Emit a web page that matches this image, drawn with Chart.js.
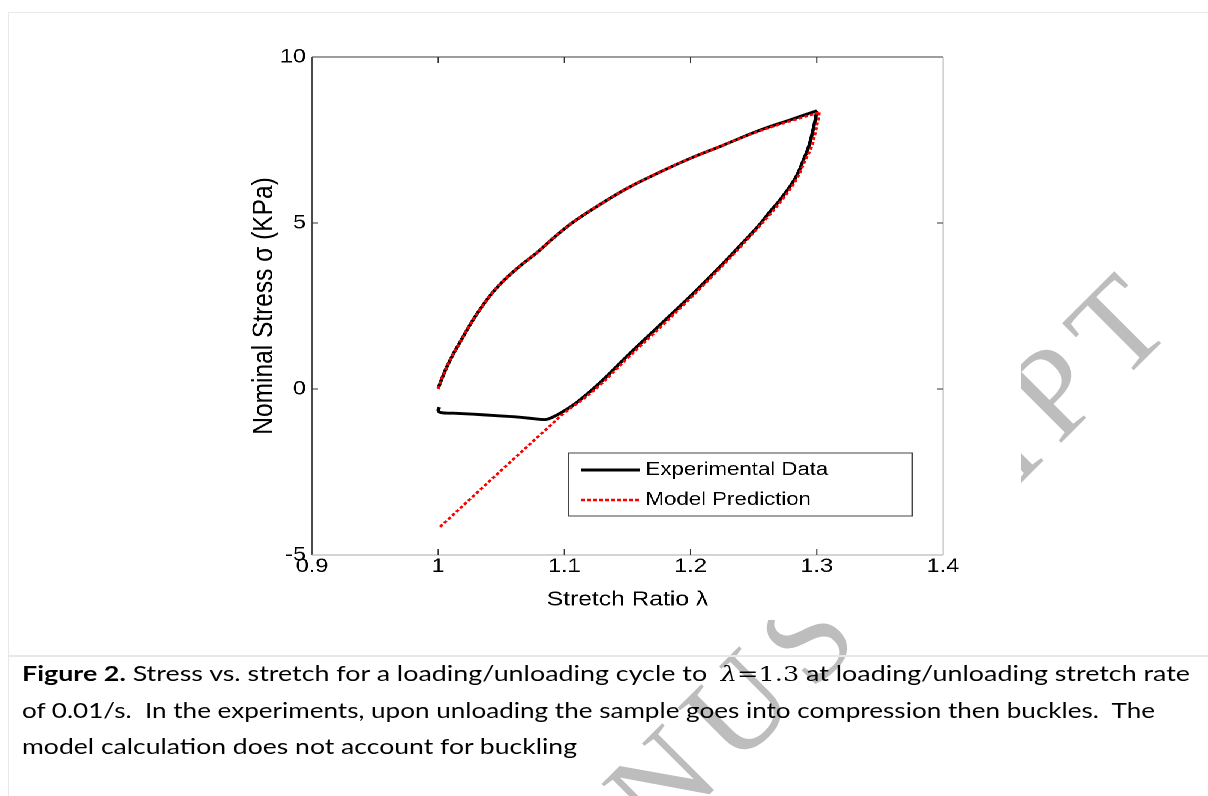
<!DOCTYPE html>
<html>
<head>
<meta charset="utf-8">
<script src="https://cdn.jsdelivr.net/npm/chart.js@4.4.1/dist/chart.umd.min.js"></script>
<style>
html, body { margin: 0; padding: 0; background: #fff; }
body { width: 1208px; height: 796px; position: relative; overflow: hidden; }
#wm { position: absolute; left: 0; top: 0; z-index: 0; }
.bl { position: absolute; background: #e8e8e8; z-index: 1; }
#plotWrap { position: absolute; left: 9px; top: 13px; width: 843px; height: 607px; background: #fff;
  transform: scaleX(1.2); transform-origin: 0 0; z-index: 2; }
.cl { position: absolute; left: 22px; white-space: nowrap; font-family: Lato, "Open Sans", sans-serif;
  font-size: 21px; line-height: 21px; color: #000; transform-origin: 0 0; z-index: 3; }
.m { font-family: "DejaVu Serif", serif; font-size: 20px; }
</style>
</head>
<body>
<canvas id="wm" width="1208" height="796"></canvas>
<div class="bl" style="left:8px;top:12px;width:1200px;height:1px"></div>
<div class="bl" style="left:8px;top:12px;width:1px;height:784px"></div>
<div class="bl" style="left:8px;top:655px;width:1200px;height:2px"></div>
<div id="plotWrap"><canvas id="c" width="843" height="607"></canvas></div>
<div class="cl" style="top:662px"><b>Figure 2.</b> Stress vs. stretch for a loading/unloading cycle to &nbsp;<span class="m"><i>λ</i>=1.3</span> at loading/unloading stretch rate</div>
<div class="cl" style="top:699px">of 0.01/s.&nbsp; In the experiments, upon unloading the sample goes into compression then buckles.&nbsp; The</div>
<div class="cl" style="top:735px">model calculation does not account for buckling</div>
<script>
// stretch ratio / nominal stress
const seriesNames = ['Experimental Data', 'Model Prediction'];

const expLoadX = [1.000, 1.003, 1.007, 1.012, 1.017, 1.025, 1.033, 1.043, 1.054, 1.066, 1.078, 1.092, 1.106, 1.125, 1.150, 1.175, 1.200, 1.225, 1.254, 1.280, 1.300];
const expLoadY = [0.02, 0.32, 0.68, 1.06, 1.39, 1.92, 2.39, 2.90, 3.34, 3.74, 4.10, 4.57, 5.00, 5.48, 6.05, 6.52, 6.95, 7.33, 7.78, 8.12, 8.38];

const expUnloadX = [1.300, 1.299, 1.297, 1.294, 1.290, 1.283, 1.272, 1.262, 1.254, 1.240, 1.225, 1.200, 1.175, 1.150, 1.128, 1.110, 1.098, 1.090, 1.085, 1.075, 1.062, 1.045, 1.028, 1.012, 1.002, 1.000, 1.001];
const expUnloadY = [8.38, 8.15, 7.80, 7.35, 6.95, 6.35, 5.75, 5.30, 4.92, 4.35, 3.75, 2.80, 1.90, 1.00, 0.18, -0.40, -0.70, -0.86, -0.92, -0.89, -0.84, -0.80, -0.76, -0.73, -0.71, -0.64, -0.55];

const modelLoadX = [1.000, 1.003, 1.007, 1.012, 1.017, 1.025, 1.033, 1.043, 1.054, 1.066, 1.078, 1.092, 1.106, 1.125, 1.150, 1.175, 1.200, 1.225, 1.254, 1.280, 1.302];
const modelLoadY = [0.00, 0.32, 0.68, 1.06, 1.39, 1.92, 2.39, 2.90, 3.34, 3.74, 4.10, 4.57, 5.00, 5.48, 6.05, 6.52, 6.95, 7.33, 7.76, 8.08, 8.33];

const modelUnloadX = [1.302, 1.301, 1.299, 1.296, 1.291, 1.284, 1.273, 1.263, 1.254, 1.240, 1.225, 1.200, 1.175, 1.150, 1.130, 1.115, 1.100, 1.088, 1.060, 1.030, 1.001];
const modelUnloadY = [8.33, 8.10, 7.75, 7.30, 6.90, 6.32, 5.72, 5.26, 4.88, 4.30, 3.70, 2.74, 1.82, 0.93, 0.18, -0.30, -0.72, -1.13, -2.10, -3.15, -4.17];

const xTicks = [0.9, 1.0, 1.1, 1.2, 1.3, 1.4];
const xTickLabels = ['0.9', '1', '1.1', '1.2', '1.3', '1.4'];
const yTicks = [-5, 0, 5, 10];
const yTickLabels = ['-5', '0', '5', '10'];

const toPts = (xs, ys) => xs.map((v, i) => ({x: v, y: ys[i]}));

const sans = "'Liberation Sans', Arial, sans-serif";
const tickFont = {family: sans, size: 19.5};

function seg(ctx, x1, y1, x2, y2, color) {
    ctx.strokeStyle = color;
    ctx.beginPath();
    ctx.moveTo(x1, y1);
    ctx.lineTo(x2, y2);
    ctx.stroke();
}

// matlab style box with inward ticks
const framePlugin = {
    id: 'frame',
    afterDatasetsDraw(chart) {
        const {ctx, chartArea: a, scales} = chart;
        ctx.save();
        ctx.lineWidth = 1;
        seg(ctx, a.left, a.top, a.right, a.top, '#3a3a3a');
        seg(ctx, a.left, a.top, a.left, a.bottom, '#4a4a4a');
        seg(ctx, a.right, a.top, a.right, a.bottom, '#b4b4b4');
        seg(ctx, a.left, a.bottom, a.right, a.bottom, '#a8a8a8');
        xTicks.slice(1, -1).forEach(v => {
            const px = scales.x.getPixelForValue(v);
            seg(ctx, px, a.bottom, px, a.bottom - 6, '#333');
            seg(ctx, px, a.top, px, a.top + 6, '#333');
        });
        yTicks.slice(1, -1).forEach(v => {
            const py = scales.y.getPixelForValue(v);
            seg(ctx, a.left, py, a.left + 5, py, '#333');
            seg(ctx, a.right, py, a.right - 5, py, '#333');
        });
        ctx.restore();
    }
};

const legendPlugin = {
    id: 'boxLegend',
    afterDatasetsDraw(chart) {
        const {ctx, chartArea: a} = chart;
        const left = a.left + 214, right = a.right - 25.5, top = a.top + 396, bottom = a.top + 459;
        ctx.save();
        ctx.fillStyle = '#fff';
        ctx.fillRect(left, top, right - left, bottom - top);
        ctx.lineWidth = 1;
        ctx.strokeStyle = '#444';
        ctx.strokeRect(left, top, right - left, bottom - top);
        const rows = [top + 17, top + 47];
        chart.data.datasets.filter(ds => ds.inLegend).forEach((ds, i) => {
            const yy = rows[i];
            ctx.strokeStyle = ds.borderColor;
            ctx.lineWidth = ds.borderWidth;
            ctx.setLineDash(ds.borderDash || []);
            ctx.beginPath();
            ctx.moveTo(left + 10.5, yy);
            ctx.lineTo(left + 59.5, yy);
            ctx.stroke();
            ctx.setLineDash([]);
            ctx.fillStyle = '#000';
            ctx.font = '18.5px ' + sans;
            ctx.textBaseline = 'middle';
            ctx.fillText(ds.label, left + 64, yy);
        });
        ctx.restore();
    }
};

const expStyle = {showLine: true, borderColor: '#000000', borderWidth: 2.9, pointRadius: 0, tension: 0.4, order: 2};
const modelStyle = {showLine: true, borderColor: '#ff0000', borderWidth: 2.4, borderDash: [3, 2], pointRadius: 0, tension: 0.4, order: 1};

new Chart(document.getElementById('c'), {
    type: 'scatter',
    data: {
        datasets: [
            Object.assign({label: seriesNames[0], data: toPts(expLoadX, expLoadY), inLegend: true}, expStyle),
            Object.assign({label: seriesNames[0], data: toPts(expUnloadX, expUnloadY)}, expStyle),
            Object.assign({label: seriesNames[1], data: toPts(modelLoadX, modelLoadY), inLegend: true}, modelStyle),
            Object.assign({label: seriesNames[1], data: toPts(modelUnloadX, modelUnloadY)}, modelStyle)
        ]
    },
    options: {
        responsive: false,
        animation: false,
        devicePixelRatio: 2,
        layout: {padding: {left: 197.8, right: 64.7, top: 44, bottom: 5}},
        plugins: {legend: {display: false}, tooltip: {enabled: false}},
        scales: {
            x: {
                type: 'linear', min: 0.9, max: 1.4,
                afterBuildTicks: s => { s.ticks = xTicks.map(v => ({value: v})); },
                afterFit: s => { s.height = 60; },
                grid: {display: false, drawTicks: false},
                border: {display: false},
                ticks: {autoSkip: false, maxRotation: 0, padding: 0, color: '#000', font: tickFont,
                    callback: (v, i) => xTickLabels[i]},
                title: {display: true, text: 'Stretch Ratio λ', color: '#000', font: {family: sans, size: 20.5},
                    padding: {top: 0, bottom: 2.7}}
            },
            y: {
                type: 'linear', min: -5, max: 10,
                afterBuildTicks: s => { s.ticks = yTicks.map(v => ({value: v})); },
                afterFit: s => { s.width = 54.7; },
                grid: {display: false, drawTicks: false},
                border: {display: false},
                ticks: {autoSkip: false, padding: 5, color: '#000', font: tickFont,
                    callback: (v, i) => yTickLabels[i]},
                title: {display: true, text: 'Nominal Stress σ (KPa)', color: '#000', font: {family: sans, size: 24.5},
                    padding: {top: 0, bottom: 0}}
            }
        }
    },
    plugins: [framePlugin, legendPlugin]
});

// watermark, spaced letters along a 45 degree baseline
const wm = document.getElementById('wm').getContext('2d');
const wmText = 'ACCEPTED MANUSCRIPT';
const wmGap = 16;
wm.fillStyle = '#bdbdbd';
wm.font = '128px "Liberation Serif", serif';
wm.translate(1175, 329);
wm.rotate(-Math.PI / 4);
let pos = 0;
for (let i = wmText.length - 1; i >= 0; i--) {
    const ch = wmText[i];
    pos -= wm.measureText(ch).width;
    wm.fillText(ch, pos, 0);
    pos -= wmGap;
}

// fit caption lines to their widths
const ends = [1190, 1155, 577];
document.fonts.ready.then(() => {
    document.querySelectorAll('.cl').forEach((el, i) => {
        const w = el.getBoundingClientRect().width;
        el.style.transform = 'scaleX(' + ((ends[i] - 22) / w) + ')';
    });
});
</script>
</body>
</html>
